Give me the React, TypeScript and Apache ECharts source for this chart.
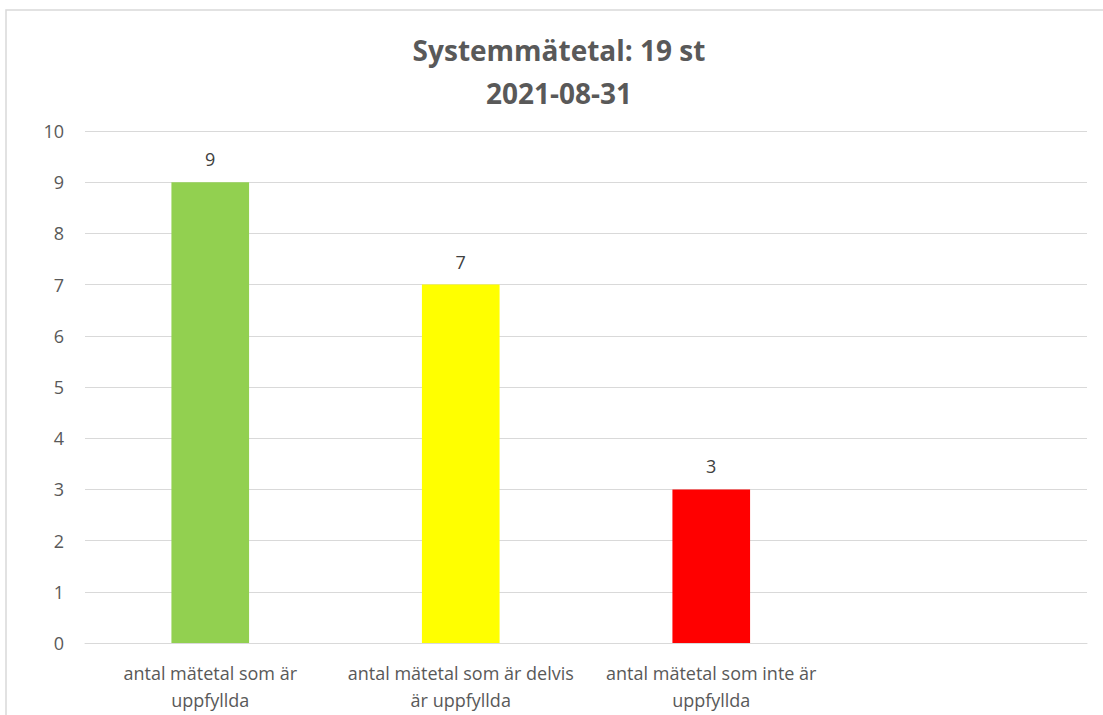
import React, { useEffect, useRef } from "react";
import * as echarts from "echarts";

const titleLines = ["Systemmätetal: 19 st", "2021-08-31"];
const categories = [
  "antal mätetal som är\nuppfyllda",
  "antal mätetal som är delvis\när uppfyllda",
  "antal mätetal som inte är\nuppfyllda",
  "",
];
const values = [9, 7, 3, null];
const barColors = ["#92D050", "#FFFF00", "#FF0000", "#FFFFFF"];
const yMin = 0;
const yMax = 10;
const yStep = 1;

const FONT = "'Open Sans', 'Noto Sans', sans-serif";

export default function App() {
  const ref = useRef<HTMLDivElement>(null);
  useEffect(() => {
    if (!ref.current) return;
    const chart = echarts.init(ref.current, null, { renderer: "svg" });
    chart.setOption({
      animation: false,
      backgroundColor: "#ffffff",
      textStyle: { fontFamily: FONT },
      graphic: [
        {
          type: "rect",
          shape: { x: 6, y: 10, width: 1200, height: 800 },
          style: { fill: "none", stroke: "#D9D9D9", lineWidth: 1.5 },
          silent: true,
        },
        ...titleLines.map((t, i) => ({
          type: "text",
          x: 559,
          y: 50 + i * 43,
          style: {
            text: t,
            fill: "#595959",
            font: `bold 28px ${FONT}`,
            textAlign: "center",
            textVerticalAlign: "middle",
          },
        })),
      ],
      grid: { left: 85, right: 16, top: 131, bottom: 72, containLabel: false },
      xAxis: {
        type: "category",
        data: categories,
        axisLine: { lineStyle: { color: "#D9D9D9", width: 1 } },
        axisTick: { show: false },
        axisLabel: {
          color: "#595959",
          fontSize: 18,
          fontFamily: FONT,
          lineHeight: 27,
          margin: 16,
          interval: 0,
        },
      },
      yAxis: {
        type: "value",
        min: yMin,
        max: yMax,
        interval: yStep,
        axisLine: { show: false },
        axisTick: { show: false },
        splitLine: { lineStyle: { color: "#D9D9D9", width: 1 } },
        axisLabel: {
          color: "#595959",
          fontSize: 18,
          fontFamily: FONT,
          margin: 21,
        },
      },
      series: [
        {
          type: "bar",
          barWidth: "31%",
          data: values.map((v, i) => ({ value: v, itemStyle: { color: barColors[i] } })),
          label: {
            show: true,
            position: "top",
            distance: 14,
            color: "#404040",
            fontSize: 18,
            fontFamily: FONT,
          },
        },
      ],
    });
    return () => chart.dispose();
  }, []);
  return (
    <div
      ref={ref}
      style={{ position: "fixed", left: 0, top: 0, width: 1103, height: 715 }}
    />
  );
}
